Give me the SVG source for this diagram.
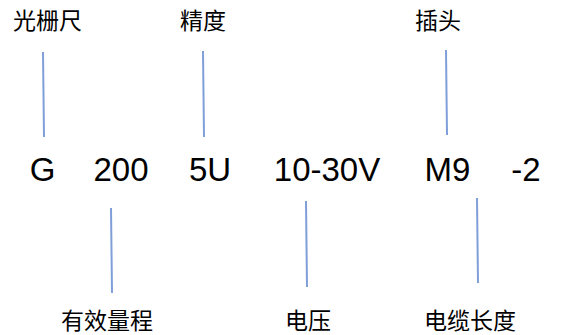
<svg xmlns="http://www.w3.org/2000/svg" width="574" height="335" viewBox="0 0 574 335">
<style>
.cjk{font-family:"Noto Sans CJK SC","Noto Sans",sans-serif;font-size:23px;fill:#000}
.code{font-family:"Liberation Sans","Open Sans",sans-serif;font-size:33px;fill:#000;text-anchor:middle}
.ln{stroke:#7f9fd8;stroke-width:2;fill:none}
</style>
<rect width="574" height="335" fill="#fff"/>
<g id="labels-top">
<text class="cjk" x="13" y="29">光栅尺</text>
<text class="cjk" x="180" y="29">精度</text>
<text class="cjk" x="415" y="29">插头</text>
</g>
<g id="code">
<text class="code" x="42.5" y="181">G</text>
<text class="code" x="121" y="181">200</text>
<text class="code" x="210" y="181">5U</text>
<text class="code" x="327" y="181">10-30V</text>
<text class="code" x="447.5" y="181">M9</text>
<text class="code" x="526" y="181">-2</text>
</g>
<g id="labels-bottom">
<text class="cjk" x="61" y="329">有效量程</text>
<text class="cjk" x="285" y="329">电压</text>
<text class="cjk" x="424" y="329">电缆长度</text>
</g>
<g id="connectors">
<line class="ln" x1="43" y1="52" x2="44" y2="137"/>
<line class="ln" x1="203" y1="51" x2="204" y2="137"/>
<line class="ln" x1="446" y1="50" x2="447" y2="135"/>
<line class="ln" x1="111" y1="208" x2="112" y2="293"/>
<line class="ln" x1="306" y1="201" x2="307" y2="287"/>
<line class="ln" x1="477" y1="198" x2="478" y2="283"/>
</g>
</svg>
